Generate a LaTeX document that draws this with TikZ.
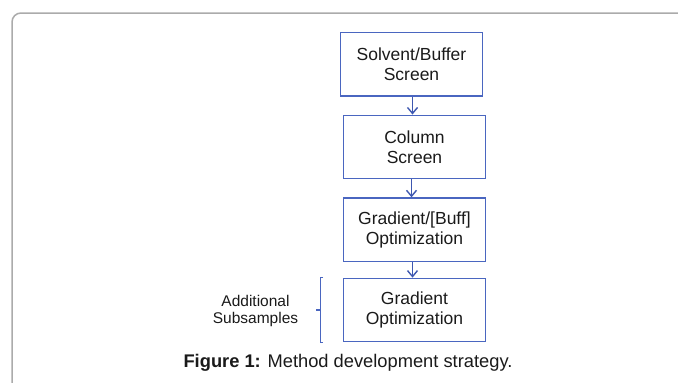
\documentclass[tikz,border=0pt]{standalone}
\usepackage{fontspec}
\setmainfont{Liberation Sans}
\usetikzlibrary{arrows.meta,calc}
\definecolor{boxblue}{HTML}{4A66C0}
\definecolor{arrblue}{HTML}{3D57B0}
\definecolor{framegray}{HTML}{ABABAB}
\definecolor{txt}{HTML}{1A1A1A}
\begin{document}
\begin{tikzpicture}[x=1pt,y=-1pt,
  stepbox/.style={draw=boxblue,line width=1.2pt,minimum width=142.5pt,minimum height=63.5pt,
    align=center,inner sep=0pt,text=txt,font=\fontsize{17.5}{20}\selectfont},
  flowarrow/.style={draw=arrblue,line width=1.4pt,-{Straight Barb[length=6pt,width=10pt,line width=1.4pt]}},
  bracketline/.style={draw=boxblue,line width=1.3pt}]
\useasboundingbox (0,0) rectangle (678,383);
% frame
\draw[framegray,line width=1.5pt] (12,383) -- (12,22) arc[start angle=180,end angle=270,radius=9] -- (678,13);
% boxes
\node[stepbox] (b1) at (411.5,64.2) {Solvent/Buffer\\Screen};
\node[stepbox] (b2) at (414.5,146.9) {Column\\Screen};
\node[stepbox] (b3) at (414.5,229.7) {Gradient/[Buff]\\Optimization};
\node[stepbox] (b4) at (414.5,310) {Gradient\\Optimization};
% arrows
\coordinate (a1s) at ($(b1.south)+(1,0)$);
\coordinate (a1e) at (a1s |- b2.north);
\coordinate (a2s) at ($(b2.south)+(-3,0)$);
\coordinate (a2e) at (a2s |- b3.north);
\coordinate (a3s) at ($(b3.south)+(-2,0)$);
\coordinate (a3e) at (a3s |- b4.north);
\draw[flowarrow] (a1s) -- (a1e);
\draw[flowarrow] (a2s) -- (a2e);
\draw[flowarrow] (a3s) -- (a3e);
% bracket
\coordinate (bt) at ($(b4.north west)+(-22.5,0)$);
\coordinate (bb) at ($(b4.south west)+(-22.5,0)$);
\coordinate (bm) at ($(b4.west)+(-22.5,0)$);
\coordinate (bmt) at ($(b4.west)+(-27,0)$);
\coordinate (btr) at ($(b4.north west)+(-19.5,0)$);
\coordinate (bbr) at ($(b4.south west)+(-19.5,0)$);
\draw[bracketline] (btr) -- (bt) -- (bb) -- (bbr);
\draw[bracketline] (bm) -- (bmt);
\node[text=txt,align=center,font=\fontsize{15.5}{16.5}\selectfont,inner sep=0pt] (lbl) at (255.5,311) {Additional\\Subsamples};
% caption
\node[text=txt,font=\fontsize{18.3}{20}\selectfont,inner sep=0pt,anchor=base] (cap) at (348,367) {\textbf{Figure 1:} Method development strategy.};
\end{tikzpicture}
\end{document}
